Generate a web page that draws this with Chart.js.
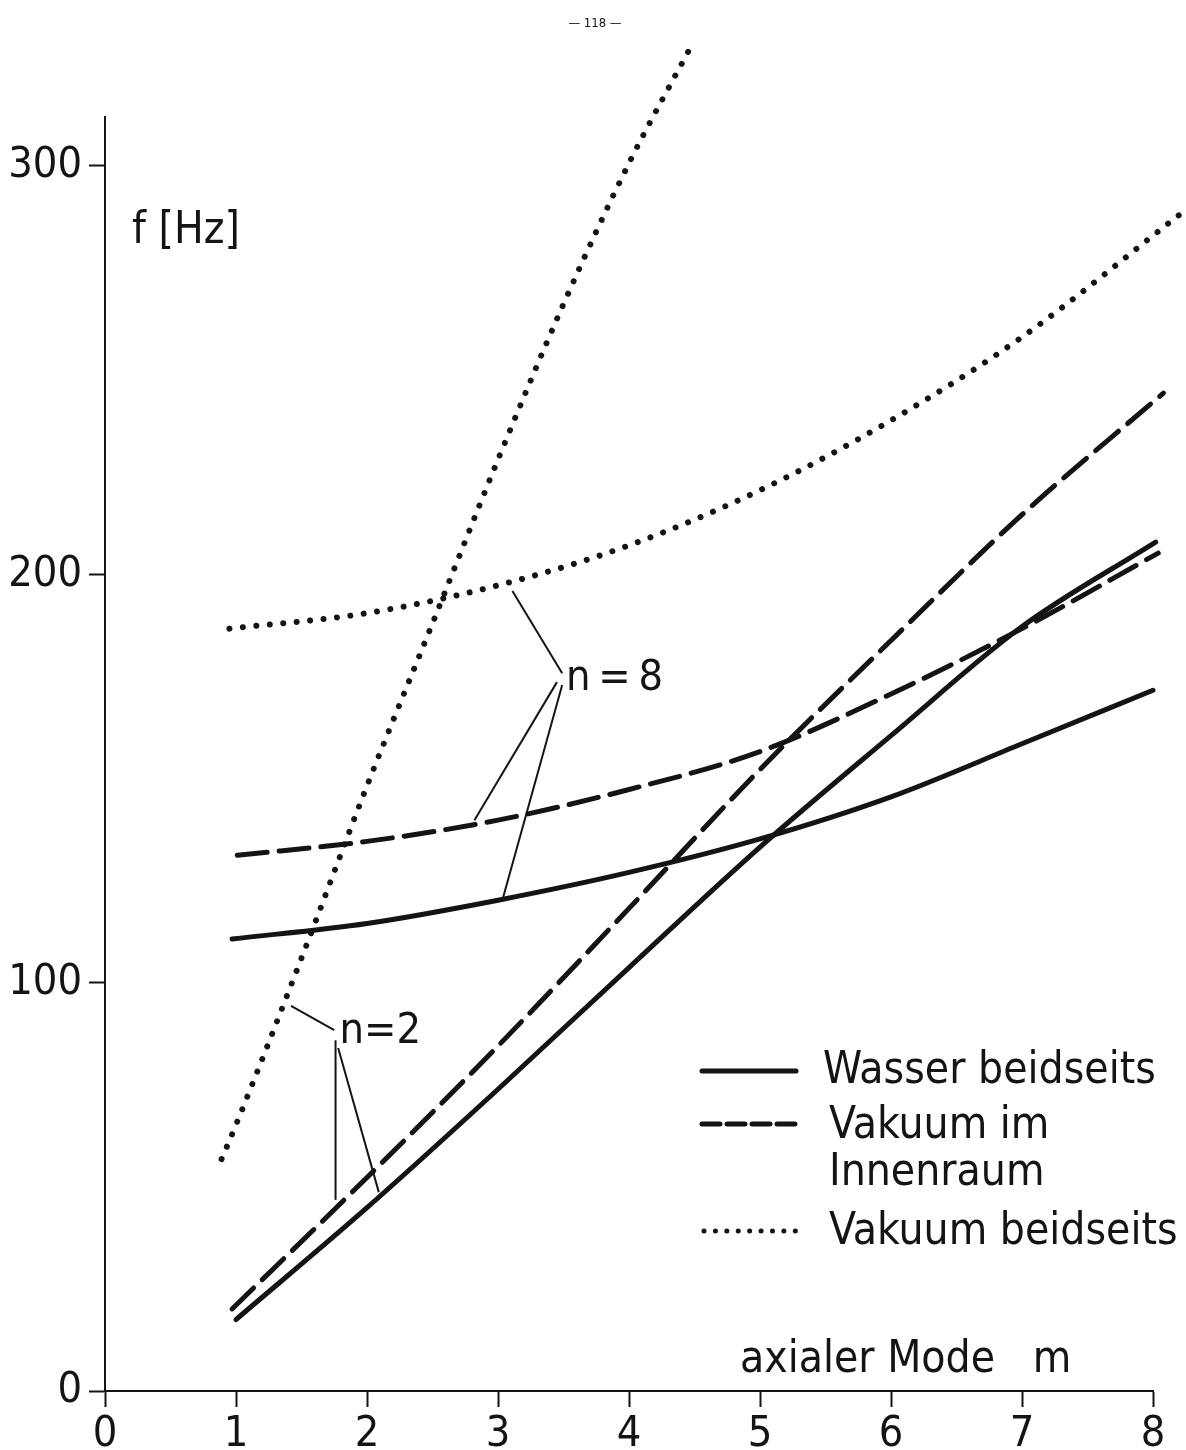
<!DOCTYPE html>
<html>
<head>
<meta charset="utf-8">
<script src="https://cdn.jsdelivr.net/npm/chart.js@4.4.1/dist/chart.umd.min.js"></script>
<style>
  html, body { margin: 0; padding: 0; background: #fff; }
  #wrap { width: 1186px; height: 1450px; position: relative; }
</style>
</head>
<body>
<div id="wrap"><canvas id="chart"></canvas></div>
<script>
const xTicks = [0, 1, 2, 3, 4, 5, 6, 7, 8];
const yTicks = [0, 100, 200, 300];

// Wasser beidseits (solid)
const mWasserN2 = [1.0, 2, 3, 4, 5, 6, 7, 8.02];
const fWasserN2 = [17.5, 44.9, 73.9, 103.7, 133.2, 160.5, 187.2, 207.9];
const mWasserN8 = [0.97, 2, 3, 4, 5, 6, 7, 8];
const fWasserN8 = [110.7, 114.5, 120.2, 127.0, 135.2, 145.5, 158.5, 171.6];

// Vakuum im Innenraum (dashed)
const mInnenN2 = [0.97, 2, 3, 4, 5, 6, 7, 8.08];
const fInnenN2 = [20.1, 52.3, 84.5, 118.2, 152.2, 183.8, 214.6, 244.4];
const mInnenN8 = [1.01, 2, 3, 4, 5, 6, 7, 8.04];
const fInnenN8 = [131.2, 134.6, 139.8, 147.3, 156.6, 170.7, 186.7, 205.2];

// Vakuum beidseits (dotted)
const mVakN2 = [0.89, 1, 1.5, 2, 2.5, 3, 3.5, 4, 4.47];
const fVakN2 = [56.8, 65.2, 106.0, 148.2, 188.0, 228.1, 266.2, 300.7, 329.1];
const mVakN8 = [0.95, 2, 3, 4, 5, 6, 7, 8.2];
const fVakN8 = [186.7, 190.5, 197.3, 207.1, 220.6, 237.7, 258.1, 288.0];

// leader lines for the n labels, [m1, f1, m2, f2]
const leadersN8 = [
  [3.49, 175.8, 3.11, 195.9],
  [3.45, 173.6, 2.82, 139.8],
  [3.49, 172.9, 3.04, 121.0]
];
const leadersN2 = [
  [1.75, 88.4, 1.42, 94.3],
  [1.76, 85.9, 1.76, 46.8],
  [1.78, 84.0, 2.09, 48.7]
];

const INK = '#141414';
const FONT = '"DejaVu Sans Condensed", "DejaVu Sans", sans-serif';

const pts = (xs, ys) => xs.map((x, i) => ({ x: x, y: ys[i] }));

const solid = { borderDash: [], borderWidth: 5 };
const dashed = { borderDash: [30, 12], borderWidth: 5 };
const dotted = { borderDash: [0.01, 13.5], borderWidth: 6 };

const makeSet = (label, data, style) => Object.assign({
  label: label,
  data: data,
  borderColor: INK,
  borderCapStyle: 'round',
  pointRadius: 0,
  fill: false,
  clip: false,
  cubicInterpolationMode: 'monotone'
}, style);

const overlay = {
  id: 'overlay',
  afterDraw(chart) {
    const ctx = chart.ctx;
    const xs = chart.scales.x, ys = chart.scales.y;
    const px = v => xs.getPixelForValue(v);
    const py = v => ys.getPixelForValue(v);
    ctx.save();
    ctx.fillStyle = INK;
    ctx.strokeStyle = INK;

    // leader lines
    ctx.lineWidth = 2;
    ctx.setLineDash([]);
    leadersN8.concat(leadersN2).forEach(l => {
      ctx.beginPath();
      ctx.moveTo(px(l[0]), py(l[1]));
      ctx.lineTo(px(l[2]), py(l[3]));
      ctx.stroke();
    });

    ctx.textBaseline = 'alphabetic';
    ctx.textAlign = 'left';
    ctx.font = '43px ' + FONT;
    ctx.fillText('n\u2009=\u20098', px(3.52), py(171.6));
    ctx.fillText('n=2', px(1.79), py(85.2));

    ctx.font = '44px ' + FONT;
    ctx.fillText('f [Hz]', 132, 243);
    ctx.fillText('axialer Mode   m', 740, 1372);

    // legend
    const lx0 = 702, lx1 = 796;
    ctx.lineCap = 'round';
    ctx.lineWidth = 5;
    ctx.beginPath(); ctx.moveTo(lx0, 1071); ctx.lineTo(lx1, 1071); ctx.stroke();
    ctx.setLineDash([18, 7]);
    ctx.beginPath(); ctx.moveTo(lx0, 1124); ctx.lineTo(lx1, 1124); ctx.stroke();
    ctx.setLineDash([0.01, 11.4]);
    ctx.lineWidth = 5;
    ctx.beginPath(); ctx.moveTo(lx0 + 2, 1231); ctx.lineTo(lx1, 1231); ctx.stroke();
    ctx.setLineDash([]);

    ctx.fillText('Wasser beidseits', 823, 1083);
    ctx.fillText('Vakuum im', 829, 1138);
    ctx.fillText('Innenraum', 829, 1185);
    ctx.fillText('Vakuum beidseits', 829, 1244);

    // page number
    ctx.font = '13px ' + FONT;
    ctx.textAlign = 'center';
    ctx.fillText('\u2014 118 \u2014', 595, 27);
    ctx.restore();
  }
};

const init = () => {
  const canvas = document.getElementById('chart');
  new Chart(canvas, {
    type: 'line',
    data: {
      datasets: [
        makeSet('Wasser beidseits n=2', pts(mWasserN2, fWasserN2), solid),
        makeSet('Wasser beidseits n=8', pts(mWasserN8, fWasserN8), solid),
        makeSet('Vakuum im Innenraum n=2', pts(mInnenN2, fInnenN2), dashed),
        makeSet('Vakuum im Innenraum n=8', pts(mInnenN8, fInnenN8), dashed),
        makeSet('Vakuum beidseits n=2', pts(mVakN2, fVakN2), dotted),
        makeSet('Vakuum beidseits n=8', pts(mVakN8, fVakN8), dotted)
      ]
    },
    options: {
      responsive: true,
      maintainAspectRatio: false,
      animation: false,
      layout: { padding: { top: 117, right: 33, left: 0, bottom: 0 } },
      plugins: { legend: { display: false }, tooltip: { enabled: false } },
      scales: {
        x: {
          type: 'linear',
          min: 0,
          max: 8,
          afterBuildTicks: s => { s.ticks = xTicks.map(v => ({ value: v })); },
          afterFit: s => { s.height = 59; },
          grid: { drawOnChartArea: false, drawTicks: true, tickLength: 16, tickWidth: 2, tickColor: INK },
          border: { display: true, color: INK, width: 2 },
          ticks: { font: { family: FONT, size: 43 }, color: INK, padding: 2, maxRotation: 0, autoSkip: false }
        },
        y: {
          type: 'linear',
          min: 0,
          max: 312,
          afterBuildTicks: s => { s.ticks = yTicks.map(v => ({ value: v })); },
          afterFit: s => { s.width = 105; },
          grid: { drawOnChartArea: false, drawTicks: true, tickLength: 16, tickWidth: 2, tickColor: INK },
          border: { display: true, color: INK, width: 2 },
          ticks: { font: { family: FONT, size: 43 }, color: INK, padding: 7, autoSkip: false }
        }
      }
    },
    plugins: [overlay]
  });
};

document.addEventListener('DOMContentLoaded', init);
</script>
</body>
</html>
